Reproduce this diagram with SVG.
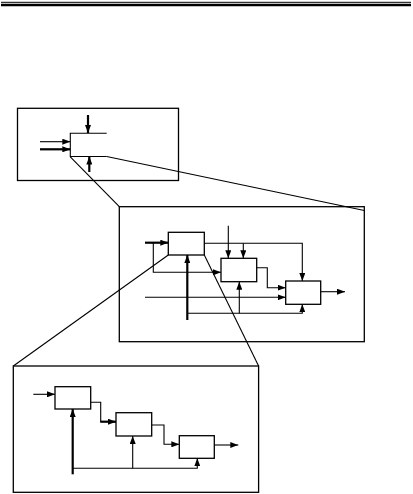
<svg xmlns="http://www.w3.org/2000/svg" width="413" height="494" viewBox="0 0 413 494">
<style>
.frame{fill:none;stroke:#000;stroke-width:1.3}
.blk{fill:#fff;stroke:#000;stroke-width:1.3}
.ln{fill:none;stroke:#000;stroke-width:1.1}
.lk{fill:none;stroke:#000;stroke-width:1.1}
.th{fill:none;stroke:#000;stroke-width:2.2}
.ar{marker-end:url(#ah)}
</style>
<defs>
<marker id="ah" viewBox="0 0 8 6" refX="8" refY="3" markerWidth="8" markerHeight="6" markerUnits="userSpaceOnUse" orient="auto"><path d="M0,0 L8,3 L0,6 z" fill="#000"/></marker>
</defs>
<rect width="413" height="494" fill="#fff"/>
<g id="header">
<line x1="1" y1="2.3" x2="411" y2="2.3" stroke="#000" stroke-width="1"/>
<line x1="1" y1="5" x2="411" y2="5" stroke="#000" stroke-width="2.4"/>
</g>
<g id="frame-top">
<rect class="frame" x="17.5" y="108.3" width="161" height="72.2"/>
<path class="ln" d="M106.7,133.3 H70.3 V156.5 H106.7"/>
</g>
<g id="frame-middle">
<rect class="frame" x="119.3" y="206.7" width="245" height="135"/>
</g>
<g id="frame-bottom">
<rect class="frame" x="13.3" y="366" width="245.3" height="126.3"/>
</g>
<g id="block-a"><rect class="blk" x="168.3" y="232.3" width="36" height="22.7"/></g>
<g id="block-b"><rect class="blk" x="221" y="258.3" width="35.7" height="23.4"/></g>
<g id="block-c"><rect class="blk" x="285.7" y="281" width="35" height="23.3"/></g>
<g id="block-1"><rect class="blk" x="55" y="386.7" width="35.7" height="22.3"/></g>
<g id="block-2"><rect class="blk" x="116" y="412.7" width="35.7" height="23.3"/></g>
<g id="block-3"><rect class="blk" x="179.3" y="435.7" width="35" height="22.6"/></g>
<g id="connectors">
<!-- zoom lines -->
<line class="lk" x1="106.7" y1="156.5" x2="364.3" y2="210.5"/>
<line class="lk" x1="70.3" y1="156.8" x2="119.3" y2="206.7"/>
<line class="lk" x1="168.3" y1="255" x2="13.3" y2="366"/>
<line class="lk" x1="204.3" y1="255" x2="258.6" y2="366"/>
<!-- top frame arrows -->
<line class="th ar" x1="88" y1="115" x2="88" y2="133"/>
<line class="th ar" x1="89.3" y1="172" x2="89.3" y2="156.5"/>
<line class="ln ar" x1="40" y1="141.7" x2="70.3" y2="141.7"/>
<line class="th ar" x1="40" y1="149.3" x2="70.3" y2="149.3"/>
<!-- middle frame -->
<line class="th ar" x1="145" y1="242.7" x2="168.3" y2="242.7"/>
<path class="ln ar" d="M153.3,242.7 V272.3 H221"/>
<path class="ln ar" d="M204.3,243.3 H302.3 V281"/>
<line class="ln ar" x1="228.3" y1="225.7" x2="228.3" y2="258.3"/>
<line class="ln ar" x1="243.3" y1="243.3" x2="243.3" y2="258.3"/>
<path class="ln ar" d="M256.7,267.7 H267.3 V287.7 H285.7"/>
<line class="ln ar" x1="145" y1="297.3" x2="285.7" y2="297.3"/>
<line class="th ar" x1="187.3" y1="320" x2="187.3" y2="255"/>
<path class="ln ar" d="M187.3,313.3 H302.3 V304.3"/>
<line class="ln ar" x1="239.3" y1="313.3" x2="239.3" y2="281.7"/>
<line class="ln ar" x1="320.7" y1="291.7" x2="345" y2="291.7"/>
<!-- bottom frame -->
<line class="ln ar" x1="33.3" y1="394.3" x2="55" y2="394.3"/>
<path class="ln" d="M90.7,402.3 H100.7 V421.7"/>
<line class="th ar" x1="100.2" y1="421.7" x2="116" y2="421.7"/>
<path class="ln ar" d="M151.7,425 H164 V444.3 H179.3"/>
<line class="ln ar" x1="214.3" y1="445" x2="238.3" y2="445"/>
<line class="th ar" x1="72.7" y1="474.3" x2="72.7" y2="409"/>
<path class="ln ar" d="M72.7,468.3 H197.3 V458.3"/>
<line class="ln ar" x1="132.7" y1="468.3" x2="132.7" y2="436"/>
</g>
</svg>
